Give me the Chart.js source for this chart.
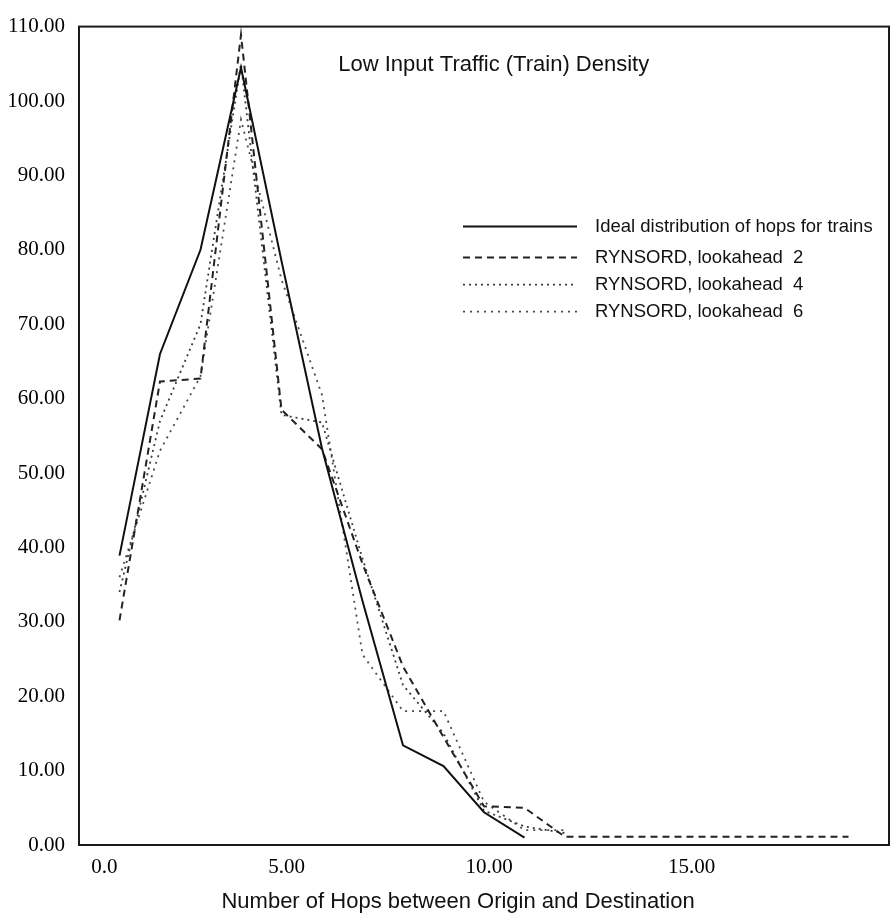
<!DOCTYPE html>
<html>
<head>
<meta charset="utf-8">
<title>Low Input Traffic (Train) Density</title>
<script src="https://cdn.jsdelivr.net/npm/chart.js@4.4.0/dist/chart.umd.min.js"></script>
<style>
  html, body { margin: 0; padding: 0; background: #fff; }
</style>
</head>
<body>
<canvas id="canvas" width="893" height="916"></canvas>
<script>
// number of hops between origin and destination
var hops = [1, 2, 3, 4, 5, 6, 7, 8, 9, 10, 11, 12, 13, 14, 15, 16, 17, 18, 19];

// percentage of trains per hop count
var ideal      = [38.9, 66.0, 80.0, 104.5, 78.5, 53.3, 32.8, 13.4, 10.6, 4.4, 1.0];
var lookahead2 = [30.2, 62.3, 62.7, 108.9, 58.5, 53.2, 37.8, 24.0, 14.5, 5.2, 5.0, 1.1, 1.1, 1.1, 1.1, 1.1, 1.1, 1.1, 1.1];
var lookahead4 = [34.0, 57.0, 70.0, 105.0, 57.8, 56.8, 38.5, 21.5, 15.0, 4.6, 2.5, 1.6];
var lookahead6 = [36.0, 53.0, 63.0, 97.5, 76.0, 60.5, 25.6, 18.0, 18.0, 5.8, 2.0, 2.0];

var seriesNames = [
  'Ideal distribution of hops for trains',
  'RYNSORD, lookahead  2',
  'RYNSORD, lookahead  4',
  'RYNSORD, lookahead  6'
];

var yTicks = [0, 10, 20, 30, 40, 50, 60, 70, 80, 90, 100, 110];
var xTickValues = [0.5, 5, 10, 15];
var xTickLabels = ['0.0', '5.00', '10.00', '15.00'];

var serif = '"Liberation Serif", "Times New Roman", serif';
var sans = '"Liberation Sans", Arial, Helvetica, sans-serif';

function points(values) {
  return values.map(function(v, i) { return {x: hops[i], y: v}; });
}

function line(label, values, color, width, dash) {
  return {
    label: label,
    data: points(values),
    borderColor: color,
    borderWidth: width,
    borderDash: dash,
    pointRadius: 0,
    fill: false,
    tension: 0
  };
}

// plot frame, caption, legend and x axis title
var decorations = {
  id: 'decorations',
  afterDraw: function(chart) {
    var ctx = chart.ctx, a = chart.chartArea;
    var w = a.right - a.left;
    ctx.save();
    ctx.strokeStyle = '#1a1a1a';
    ctx.lineWidth = 2;
    ctx.setLineDash([]);
    ctx.strokeRect(a.left, a.top, w, a.bottom - a.top);

    ctx.fillStyle = '#111';
    ctx.textBaseline = 'middle';
    ctx.textAlign = 'center';
    ctx.font = '22px ' + sans;
    ctx.fillText('Low Input Traffic (Train) Density', a.left + w * 0.512, a.top + 38);

    ctx.fillText('Number of Hops between Origin and Destination', a.left + w * 0.468, 902);

    var rows = [200, 231, 258, 285];
    ctx.textAlign = 'left';
    ctx.font = '18.5px ' + sans;
    chart.data.datasets.forEach(function(ds, i) {
      var y = a.top + rows[i];
      ctx.strokeStyle = ds.borderColor;
      ctx.lineWidth = ds.borderWidth;
      ctx.setLineDash(ds.borderDash || []);
      ctx.beginPath();
      ctx.moveTo(a.left + 384, y);
      ctx.lineTo(a.left + 498, y);
      ctx.stroke();
      ctx.fillText(ds.label, a.left + 516, y);
    });
    ctx.restore();
  }
};

var config = {
  type: 'line',
  data: {
    datasets: [
      line(seriesNames[0], ideal, '#111', 2, []),
      line(seriesNames[1], lookahead2, '#222', 2, [7, 5]),
      line(seriesNames[2], lookahead4, '#3a3a3a', 1.8, [2, 4]),
      line(seriesNames[3], lookahead6, '#4a4a4a', 1.8, [2, 5])
    ]
  },
  options: {
    responsive: false,
    animation: false,
    layout: {padding: {top: 25, right: 4, bottom: 0, left: 0}},
    plugins: {legend: {display: false}, tooltip: {enabled: false}, title: {display: false}},
    scales: {
      x: {
        type: 'linear', min: 0, max: 20,
        grid: {display: false, drawTicks: false},
        border: {display: false},
        afterBuildTicks: function(s) { s.ticks = xTickValues.map(function(v) { return {value: v}; }); },
        afterFit: function(s) { s.height = 71; },
        ticks: {
          padding: 10, labelOffset: 5, autoSkip: false, maxRotation: 0,
          color: '#000', font: {family: serif, size: 21},
          callback: function(v, i) { return xTickLabels[i]; }
        }
      },
      y: {
        min: 0, max: 110,
        grid: {display: false, drawTicks: false},
        border: {display: false},
        afterBuildTicks: function(s) { s.ticks = yTicks.map(function(v) { return {value: v}; }); },
        afterFit: function(s) { s.width = 79; },
        ticks: {
          padding: 14, color: '#000', font: {family: serif, size: 21},
          callback: function(v) { return Number(v).toFixed(2); }
        }
      }
    }
  },
  plugins: [decorations]
};

window.onload = function() {
  window.hopsChart = new Chart(document.getElementById('canvas'), config);
};
</script>
</body>
</html>
